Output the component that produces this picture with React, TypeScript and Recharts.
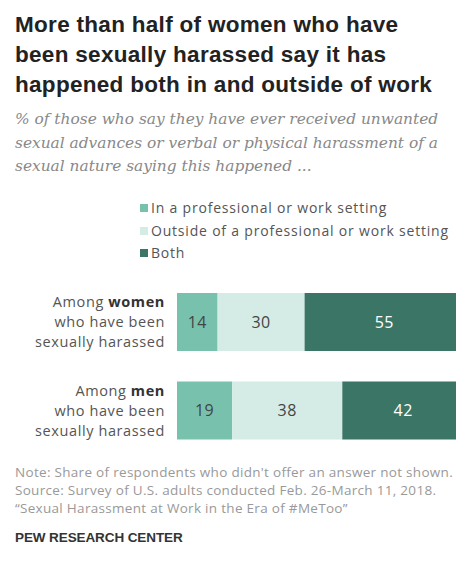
import React from 'react';
import { BarChart, Bar, XAxis, YAxis, Legend, LabelList } from 'recharts';

const groups = ['women', 'men'];
const inWork = [14, 19];
const outsideWork = [30, 38];
const bothSettings = [55, 42];
const seriesNames = [
  'In a professional or work setting',
  'Outside of a professional or work setting',
  'Both',
];
const seriesColors = ['#78c2ad', '#d4ece5', '#3b7565'];

const data = groups.map((g, i) => ({
  group: g,
  inWork: inWork[i],
  outside: outsideWork[i],
  both: bothSettings[i],
}));

const bodyFont = '"Open Sans", sans-serif';

const GroupTick = ({ x, y, payload }: any) => (
  <text x={x} y={y} textAnchor="end" fill="#555" fontSize={14.5} letterSpacing={0.6} fontFamily={bodyFont}>
    <tspan x={x} y={y - 20} dy="0.35em">Among </tspan>
    <tspan fontWeight={700} fill="#333">{payload.value}</tspan>
    <tspan x={x} y={y} dy="0.35em">who have been</tspan>
    <tspan x={x} y={y + 20} dy="0.35em">sexually harassed</tspan>
  </text>
);

// keep legend rows in series order (recharts sorts by name otherwise)
const LegendContent = ({ payload }: any) => {
  const items = [...(payload || [])].sort(
    (a: any, b: any) => seriesNames.indexOf(a.value) - seriesNames.indexOf(b.value)
  );
  return (
    <div style={{ fontFamily: bodyFont, fontSize: 14, letterSpacing: 0.8, color: '#555', lineHeight: '22.5px' }}>
      {items.map((p: any) => (
        <div key={p.value} style={{ display: 'flex', alignItems: 'center', whiteSpace: 'nowrap' }}>
          <span style={{ width: 8, height: 8, background: p.color, marginRight: 3, display: 'inline-block' }} />
          {p.value}
        </div>
      ))}
    </div>
  );
};

export default function App() {
  return (
    <div style={{ position: 'absolute', left: 0, top: 0, width: 456, height: 565, overflow: 'hidden', background: '#fff' }}>
      <BarChart
        width={467}
        height={565}
        data={data}
        layout="vertical"
        margin={{ top: 278, right: 0, bottom: 110, left: 0 }}
        barSize={58}
      >
        <XAxis type="number" domain={[0, 100]} hide />
        <YAxis
          type="category"
          dataKey="group"
          width={177}
          axisLine={false}
          tickLine={false}
          tickMargin={6}
          tick={<GroupTick />}
        />
        <Legend
          layout="horizontal"
          verticalAlign="middle"
          align="center"
          content={<LegendContent />}
          wrapperStyle={{ top: 197, left: 140, width: 330, height: 70 }}
        />
        <Bar dataKey="inWork" name={seriesNames[0]} stackId="a" fill={seriesColors[0]} isAnimationActive={false}>
          <LabelList dataKey="inWork" position="center" fill="#444" fontSize={16} letterSpacing={0.5} fontFamily={bodyFont} />
        </Bar>
        <Bar dataKey="outside" name={seriesNames[1]} stackId="a" fill={seriesColors[1]} isAnimationActive={false}>
          <LabelList dataKey="outside" position="center" fill="#444" fontSize={16} letterSpacing={0.5} fontFamily={bodyFont} />
        </Bar>
        <Bar dataKey="both" name={seriesNames[2]} stackId="a" fill={seriesColors[2]} isAnimationActive={false}>
          <LabelList dataKey="both" position="center" fill="#fff" fontSize={16} letterSpacing={0.5} fontFamily={bodyFont} />
        </Bar>
      </BarChart>

      <div
        style={{
          position: 'absolute', left: 15, top: 10, width: 445, whiteSpace: 'nowrap',
          fontFamily: '"Liberation Sans", Arial, sans-serif', fontWeight: 700,
          fontSize: 22.5, letterSpacing: 0.3, lineHeight: '30px', color: '#222',
        }}
      >
        More than half of women who have<br />
        been sexually harassed say it has<br />
        happened both in and outside of work
      </div>
      <div
        style={{
          position: 'absolute', left: 15, top: 108, width: 440,
          fontFamily: '"DejaVu Serif", serif', fontStyle: 'italic',
          fontSize: 15.4, lineHeight: '23.5px', color: '#888', whiteSpace: 'nowrap',
        }}
      >
        % of those who say they have ever received unwanted<br />
        sexual advances or verbal or physical harassment of a<br />
        sexual nature saying this happened ...
      </div>
      <div
        style={{
          position: 'absolute', left: 15, top: 463, width: 445,
          fontFamily: bodyFont, fontSize: 13.5, letterSpacing: 0.3, lineHeight: '18px', color: '#999', whiteSpace: 'nowrap',
        }}
      >
        Note: Share of respondents who didn't offer an answer not shown.<br />
        Source: Survey of U.S. adults conducted Feb. 26-March 11, 2018.<br />
        “Sexual Harassment at Work in the Era of #MeToo”
      </div>
      <div
        style={{
          position: 'absolute', left: 15, top: 529, fontFamily: '"Liberation Sans", Arial, sans-serif',
          fontWeight: 700, fontSize: 13.5, lineHeight: '18px', color: '#333', letterSpacing: -0.1,
        }}
      >
        PEW RESEARCH CENTER
      </div>
    </div>
  );
}
